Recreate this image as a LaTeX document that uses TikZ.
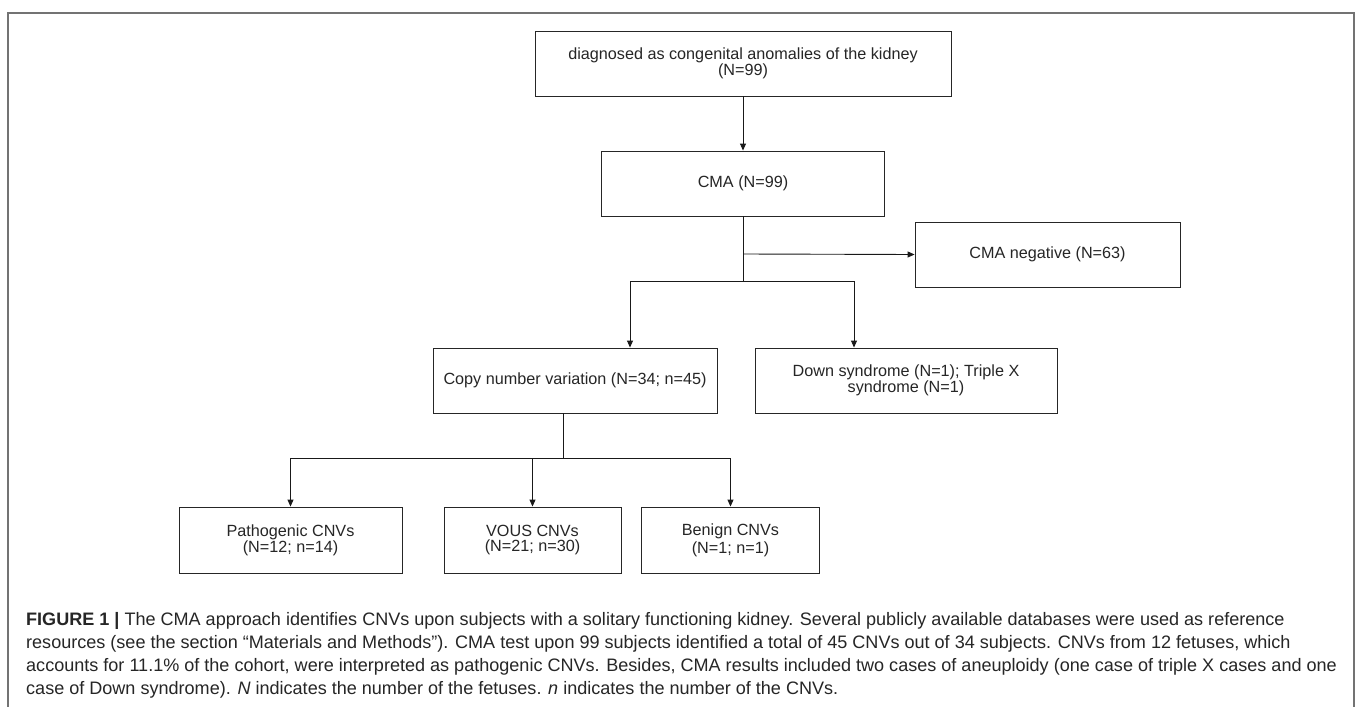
\documentclass[tikz,border=0pt]{standalone}
\usepackage{fontspec}
\setmainfont{Liberation Sans}
\usetikzlibrary{arrows.meta}
\begin{document}
\begin{tikzpicture}[x=1pt,y=-1pt,
  box/.style={draw=black!85, line width=0.9pt, align=center, inner sep=0pt,
    font=\fontsize{16.2}{15}\selectfont, text=black!85},
  arr/.style={-{Triangle[length=7pt,width=6pt]}, line width=0.9pt, draw=black!90},
  ln/.style={line width=0.9pt, draw=black!90},
  frameline/.style={line width=1.4pt, draw=black!55},
  captxt/.style={anchor=base west, inner sep=0pt, text=black!85,
    font=\fontsize{18.05}{20}\selectfont}
]
\useasboundingbox (0,0) rectangle (1358,707);
\fill[white] (0,0) rectangle (1358,707);
\draw[frameline] (8,707) -- (8,13) -- (1354,13) -- (1354,707);

% boxes
\node[box, minimum width=416pt, minimum height=65pt] (b1) at (743,63.5)
  {diagnosed as congenital anomalies of the kidney\\(N=99)};
\node[box, minimum width=283pt, minimum height=65pt] (b2) at (743,183.5)
  {CMA (N=99)};
\node[box, minimum width=265pt, minimum height=65pt] (neg) at (1047.5,254.5)
  {CMA negative (N=63)};
\node[box, minimum width=284pt, minimum height=65pt] (copy) at (575,380.5)
  {Copy number variation (N=34; n=45)};
\node[box, minimum width=302pt, minimum height=65pt] (down) at (906,380.5)
  {Down syndrome (N=1); Triple X\\syndrome (N=1)};
\node[box, minimum width=223pt, minimum height=66pt] (patho) at (290.5,540)
  {Pathogenic CNVs\\(N=12; n=14)};
\node[box, minimum width=177pt, minimum height=66pt] (vous) at (532.5,540)
  {VOUS CNVs\\(N=21; n=30)};
\node[box, minimum width=178pt, minimum height=66pt] (benign) at (730.5,540)
  {Benign CNVs\\[2pt](N=1; n=1)};

% connectors
\coordinate (j0) at (743,254);
\coordinate (j1) at (743,281);
\coordinate (j2) at (563,458);
\draw[arr] (b1.south) -- (b2.north);
\draw[ln] (b2.south) -- (j1);
\draw[arr] (j0) -- (neg.west);
\draw[arr] (j1) -| ([xshift=55pt]copy.north);
\draw[arr] (j1) -| ([xshift=-52pt]down.north);
\draw[ln] ([xshift=-12pt]copy.south) -- (j2);
\draw[arr] (j2) -| (patho.north);
\draw[arr] (j2) -| (vous.north);
\draw[arr] (j2) -| (benign.north);

% caption
\node[captxt] (c1) at (26,625) {\textbf{FIGURE 1 |} The CMA approach identifies CNVs upon subjects with a solitary functioning kidney. Several publicly available databases were used as reference};
\node[captxt] (c2) at (26,648) {resources (see the section “Materials and Methods”). CMA test upon 99 subjects identified a total of 45 CNVs out of 34 subjects. CNVs from 12 fetuses, which};
\node[captxt] (c3) at (26,671) {accounts for 11.1\% of the cohort, were interpreted as pathogenic CNVs. Besides, CMA results included two cases of aneuploidy (one case of triple X cases and one};
\node[captxt] (c4) at (26,694) {case of Down syndrome). \textit{N} indicates the number of the fetuses. \textit{n} indicates the number of the CNVs.};
\end{tikzpicture}
\end{document}
